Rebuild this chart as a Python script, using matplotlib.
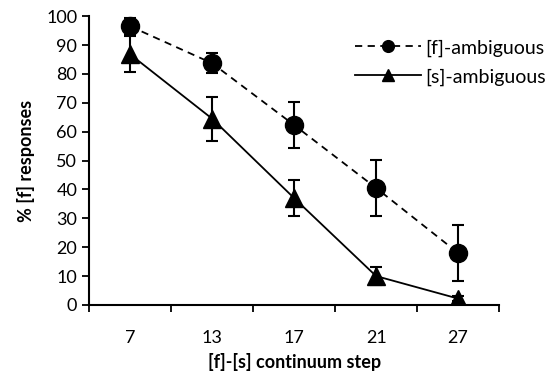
import numpy as np
import matplotlib
matplotlib.use("Agg")
import matplotlib.pyplot as plt

plt.rcParams['font.family'] = ['Lato', 'DejaVu Sans']

steps = ["7", "13", "17", "21", "27"]
f_amb = [96.5, 83.7, 62.3, 40.5, 18.0]
f_err = [3.0, 3.5, 8.0, 9.6, 9.8]
s_amb = [86.8, 64.5, 37.0, 10.0, 2.2]
s_err = [6.3, 7.6, 6.2, 3.2, 1.0]

fig = plt.figure(figsize=(5.57, 3.76), dpi=100)
ax = fig.add_axes([0.160, 0.189, 0.736, 0.768])

x = np.arange(1, len(steps) + 1)
ax.errorbar(x, f_amb, yerr=f_err, color='black', linestyle='--', marker='o',
            markersize=13, linewidth=1.3, elinewidth=1.5, capsize=4, capthick=1.5,
            dashes=(4, 3), label='[f]-ambiguous')
ax.errorbar(x, s_amb, yerr=s_err, color='black', linestyle='-', marker='^',
            markersize=13, linewidth=1.3, elinewidth=1.5, capsize=4, capthick=1.5,
            label='[s]-ambiguous')

ax.set_xlim(0.5, 5.5)
ax.set_ylim(0, 100)
ax.set_yticks(np.arange(0, 101, 10))
ax.set_xticks(x)
ax.set_xticklabels(steps)
ax.set_xticks(np.arange(0.5, 5.6, 1), minor=True)
ax.tick_params(axis='x', which='major', length=0, pad=18, labelsize=13)
ax.tick_params(axis='x', which='minor', length=5, width=1.3, direction='out')
ax.tick_params(axis='y', length=5, width=1.3, direction='out', labelsize=13)

for side in ['top', 'right']:
    ax.spines[side].set_visible(False)
for side in ['left', 'bottom']:
    ax.spines[side].set_linewidth(1.5)

ax.set_xlabel('[f]-[s] continuum step', fontsize=13, fontweight='bold', labelpad=5)
ax.set_ylabel('% [f] responses', fontsize=13, fontweight='bold', labelpad=8)

handles, labels = ax.get_legend_handles_labels()
handles = [h[0] for h in handles]
ax.legend(handles, labels, loc='center right', bbox_to_anchor=(1.115, 0.84), frameon=False,
          fontsize=14, handlelength=3.4, handletextpad=0.25, markerscale=0.65,
          labelspacing=0.6, borderaxespad=0, borderpad=0)

fig.savefig('out.png', dpi=100)
